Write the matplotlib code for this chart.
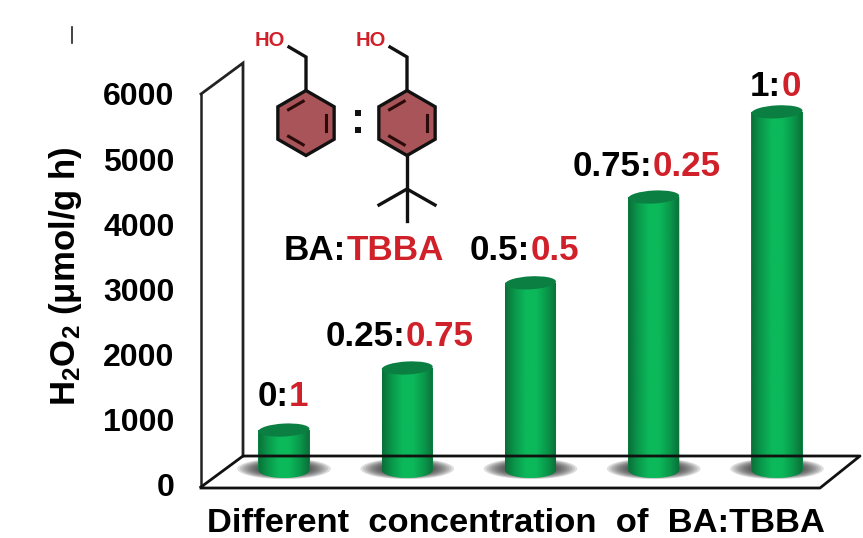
import numpy as np
import matplotlib
matplotlib.use('Agg')
import matplotlib.pyplot as plt
from matplotlib.patches import Ellipse, Polygon, Rectangle
from matplotlib.path import Path
from matplotlib.colors import LinearSegmentedColormap
from matplotlib.transforms import IdentityTransform

plt.rcParams['font.family'] = ['Liberation Sans', 'DejaVu Sans']
plt.rcParams['font.weight'] = 'bold'
plt.rcParams['mathtext.fontset'] = 'custom'
plt.rcParams['mathtext.rm'] = 'Liberation Sans:bold'
plt.rcParams['mathtext.bf'] = 'Liberation Sans:bold'
plt.rcParams['mathtext.default'] = 'rm'

# data
ratio_ba = ['0', '0.25', '0.5', '0.75', '1']
ratio_tbba = ['1', '0.75', '0.5', '0.25', '0']
h2o2 = [615, 1570, 2880, 4200, 5510]
yticks = [0, 1000, 2000, 3000, 4000, 5000, 6000]

W, H = 863, 538
RED = '#d0202a'
BAR_BASE = 215   # bars stand on the middle of the 3d floor
BAR_W = 0.414
PX_PER_UNIT = 65.0 / 1000

fig = plt.figure(figsize=(W / 100, H / 100), dpi=100, facecolor='white')

# pixel axes for the wall, floor, molecules and texts
deco = fig.add_axes([0, 0, 1, 1], zorder=0)
deco.set_xlim(0, W)
deco.set_ylim(H, 0)
deco.axis('off')

# value axes, left edge is the front of the wall
ax = fig.add_axes([201 / W, (H - 487) / H, (860 - 201) / W, (487 - 94) / H], zorder=1)
ax.patch.set_alpha(0)
for side in ['top', 'right', 'bottom']:
    ax.spines[side].set_visible(False)
ax.spines['left'].set_linewidth(1.8)
ax.spines['left'].set_color('#222222')

lw = 2.0
deco.plot([201, 243, 243], [94, 63, 456], color='#222222', lw=lw, solid_joinstyle='miter')
deco.plot([201, 243, 860, 820, 201], [487, 456, 456, 488, 488], color='#111111', lw=lw)
deco.plot([72, 72], [27, 43], color='#222222', lw=1.2)

# bars
xs = np.arange(len(h2o2))
greens = LinearSegmentedColormap.from_list('cyl', ['#0a6e38', '#0a9a4c', '#0cb95a', '#0cb95a', '#0a9a4c', '#0a6e38'])
grad = np.linspace(0, 1, 128).reshape(1, -1)
ell_h = 8 / PX_PER_UNIT  # half height of the bottom ellipse, in value units

for x, val in zip(xs, h2o2):
    top = BAR_BASE + val
    for k in range(10):
        s = 1 - k * 0.055
        ax.add_patch(Ellipse((x + 0.0, BAR_BASE + 20), 0.76 * s, 320 * s, facecolor='#2a2a2a',
                             edgecolor='none', alpha=0.15, zorder=1))
    ax.bar(x, val, BAR_W, bottom=BAR_BASE, color='#0a9a4c', zorder=2)
    t = np.linspace(np.pi, 2 * np.pi, 30)
    outline = [(x - BAR_W / 2, top), (x + BAR_W / 2, top)]
    outline += [(x - BAR_W / 2 * np.cos(a), BAR_BASE + ell_h * np.sin(a)) for a in t]
    im = ax.imshow(grad, extent=(x - BAR_W / 2, x + BAR_W / 2, BAR_BASE - ell_h, top), aspect='auto',
                   cmap=greens, zorder=3)
    im.set_clip_path(Path(outline + [outline[0]]), ax.transData)

ax.set_xlim(-83 / 123.25, 576 / 123.25)
ax.set_ylim(-46, 6000)
ax.set_xticks([])
ax.set_yticks(yticks)
ax.tick_params(axis='y', length=0, pad=19, labelsize=23)

# top caps are slightly tilted, so drawn in screen pixels
for x, val in zip(xs, h2o2):
    cx, cy = ax.transData.transform((x, BAR_BASE + val))
    ax.add_artist(Ellipse((cx, cy), 51, 13, angle=3, facecolor='#0b7f42', edgecolor='none',
                          transform=IdentityTransform(), zorder=4))

fig.text(66 / W, 1 - 276 / H, r'H$_2$O$_2$ ($\mathrm{\mu}$mol/g h)', rotation=90, fontsize=25,
         ha='center', va='center')
deco.text(516, 523, 'Different  concentration  of  BA:TBBA', fontsize=24.8, ha='center', va='center')


def two_colour(x, y, black, red, size=25.2):
    # black part then red part, x is the left edge in pixels
    t1 = deco.text(x, y, black + ':', color='black', fontsize=size, va='center', ha='left', zorder=6)
    box = t1.get_window_extent(fig.canvas.get_renderer())
    deco.text(box.x1, y, red, color=RED, fontsize=size, va='center', ha='left', zorder=6)


# pixel spots of the ratio labels: left edge, centre line
label_spots = [(258, 397), (326, 336), (470, 250), (573, 166), (750, 86)]
deco.set_zorder(2)
for (px, py), b, r in zip(label_spots, ratio_ba, ratio_tbba):
    two_colour(px, py, b, r)
two_colour(284, 251, 'BA', 'TBBA')


def ring(cx, cy, r=32.5):
    ang = np.radians(np.arange(6) * 60 + 90)
    pts = np.c_[cx + r * np.cos(ang), cy - r * np.sin(ang)]
    deco.add_patch(Polygon(pts, closed=True, facecolor='#a85458', edgecolor='#111111', lw=2.4))
    # three inner double bonds
    for i in [0, 2, 4]:
        a, b = pts[i], pts[(i + 1) % 6]
        c = np.array([cx, cy])
        p1 = c + (a - c) * 0.72 + (b - a) * 0.1
        p2 = c + (b - c) * 0.72 - (b - a) * 0.1
        deco.plot([p1[0], p2[0]], [p1[1], p2[1]], color='#2a0a0a', lw=2.2)


def stem(cx, cy):
    deco.plot([cx, cx, cx - 17], [cy - 33, cy - 66, cy - 76], color='#111111', lw=2.4,
              solid_joinstyle='miter')
    deco.text(cx - 36, cy - 82, 'HO', color=RED, fontsize=14.5, ha='center', va='center')


for cx in [306, 407]:
    ring(cx, 123)
    stem(cx, 123)
deco.plot([407, 407], [155, 221], color='#111111', lw=2.4)
deco.plot([379, 407, 435], [205, 189, 205], color='#111111', lw=2.4)
deco.add_patch(Rectangle((355, 110), 6, 6, facecolor='#111111'))
deco.add_patch(Rectangle((355, 127), 6, 6, facecolor='#111111'))

fig.savefig('out.png', dpi=100)
